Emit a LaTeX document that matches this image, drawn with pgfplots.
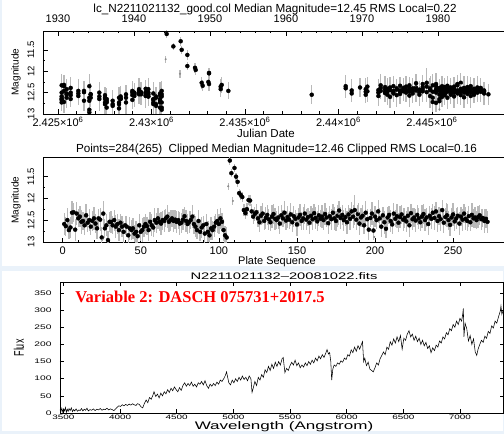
\documentclass[border=0pt]{standalone}
\usepackage{pgfplots}
\pgfplotsset{compat=1.18}
\usepackage{pgfplotstable}
\usepackage{fontspec}
\setmainfont{Liberation Sans}
\newfontfamily\matfont[FakeStretch=1.55]{Liberation Sans}
\newfontfamily\timesfont{Liberation Serif}
\newcommand\fs[1]{\fontsize{#1}{#1}\selectfont}
\definecolor{bgblue}{RGB}{234,242,250}
\definecolor{errgray}{RGB}{185,185,185}
\definecolor{clipgray}{RGB}{140,140,140}

\pgfplotstableread[row sep=\\]{
s d m e\\
1 5196 12.59 0.25\\ 2 5196 12.64 0.22\\ 3 5196 12.50 0.28\\ 4 5196 12.73 0.20\\ 5 5196 12.67 0.24\\ 6 5196 12.33 0.26\\
7 5321 12.32 0.22\\ 8 5321 12.72 0.25\\ 9 5321 12.35 0.27\\ 10 5321 12.46 0.21\\
11 5464 12.42 0.24\\ 12 5464 12.54 0.28\\ 13 5464 12.52 0.20\\ 14 5464 12.62 0.23\\
15 5678 12.39 0.26\\ 16 5678 12.56 0.22\\ 17 5678 12.50 0.25\\ 18 5678 12.65 0.19\\
19 6088 12.52 0.24\\ 20 6088 12.46 0.27\\ 21 6088 12.58 0.22\\
22 6391 12.69 0.25\\ 23 6391 12.46 0.21\\ 24 6391 12.49 0.26\\
25 6676 12.90 0.24\\ 26 6676 12.35 0.28\\ 27 6676 12.69 0.22\\ 28 6676 12.62 0.25\\ 29 6676 12.96 0.20\\
30 6747 12.54 0.23\\ 31 6747 12.54 0.26\\ 32 6747 12.62 0.21\\
33 7211 12.50 0.24\\ 34 7211 12.65 0.27\\ 35 7211 12.59 0.22\\
36 7514 12.73 0.25\\ 37 7514 12.56 0.20\\ 38 7514 12.65 0.24\\ 39 7514 12.77 0.26\\ 40 7514 12.62 0.22\\
41 7603 12.65 0.25\\ 42 7603 12.85 0.21\\ 43 7603 12.69 0.27\\ 44 7603 12.73 0.23\\
45 7924 12.69 0.24\\ 46 7924 12.81 0.20\\ 47 7924 12.77 0.26\\
48 8263 12.87 0.22\\ 49 8263 12.62 0.25\\ 50 8263 12.77 0.21\\ 51 8263 12.73 0.27\\
52 8352 12.65 0.23\\ 53 8352 12.59 0.24\\ 54 8352 12.64 0.20\\
55 8637 12.73 0.26\\ 56 8637 12.54 0.22\\ 57 8637 12.62 0.25\\
58 8976 12.67 0.21\\ 59 8976 12.50 0.27\\ 60 8976 12.56 0.23\\ 61 8976 12.46 0.24\\
62 9083 12.54 0.20\\ 63 9083 12.58 0.26\\ 64 9083 12.50 0.22\\ 65 9083 12.52 0.25\\
66 9333 12.46 0.21\\ 67 9333 12.42 0.27\\ 68 9333 12.54 0.23\\ 69 9333 12.50 0.24\\ 70 9333 12.46 0.20\\
71 9440 12.52 0.26\\ 72 9440 12.49 0.22\\ 73 9440 12.54 0.25\\ 74 9440 12.50 0.21\\
75 9689 12.58 0.27\\ 76 9689 12.56 0.23\\ 77 9689 12.49 0.24\\ 78 9689 12.41 0.20\\ 79 9689 12.52 0.26\\
80 9832 12.59 0.22\\ 81 9832 12.54 0.25\\ 82 9832 12.50 0.21\\ 83 9832 12.42 0.27\\ 84 9832 12.59 0.23\\
85 10099 12.65 0.24\\ 86 10099 12.73 0.20\\ 87 10099 12.52 0.26\\ 88 10099 12.77 0.22\\ 89 10099 12.67 0.25\\
90 10242 12.62 0.21\\ 91 10242 12.81 0.27\\ 92 10242 12.59 0.23\\ 93 10242 12.77 0.24\\
94 10456 12.85 0.20\\ 95 10456 12.69 0.26\\ 96 10456 12.73 0.22\\ 97 10456 12.65 0.25\\ 98 10456 12.56 0.21\\ 99 10456 12.52 0.27\\
100 10545 12.59 0.23\\ 101 10545 12.46 0.24\\ 102 10545 12.54 0.20\\ 103 10545 12.73 0.26\\ 104 10545 12.85 0.22\\ 105 10545 12.90 0.25\\
107 10813 11.13 0.10\\ 108 11169 11.42 0.09\\ 110 11561 11.30 0.10\\ 111 11615 11.50 0.09\\
112 11918 11.62 0.11\\ 113 11918 11.88 0.10\\ 114 12328 11.92 0.12\\ 115 12364 11.97 0.11\\
116 12685 12.27 0.14\\ 117 12738 12.34 0.13\\ 118 13041 12.25 0.15\\ 119 13077 12.04 0.12\\
120 13077 12.05 0.13\\ 121 13077 12.30 0.16\\ 122 13701 12.42 0.18\\ 123 13701 12.36 0.17\\
124 13755 12.32 0.19\\ 125 14111 12.46 0.20\\ 126 18569 12.55 0.22\\
127 20387 12.40 0.22\\ 128 20387 12.35 0.25\\
129 20708 12.52 0.21\\ 130 20708 12.45 0.26\\
131 21154 12.38 0.23\\
132 21457 12.48 0.24\\ 133 21457 12.55 0.20\\ 134 21457 12.42 0.27\\
135 21546 12.36 0.22\\ 136 21546 12.47 0.25\\
137 22135 12.50 0.21\\ 138 22135 12.44 0.26\\ 139 22135 12.58 0.23\\
140 22259 12.39 0.24\\ 141 22259 12.46 0.20\\ 142 22259 12.33 0.27\\
143 22491 12.51 0.22\\ 144 22491 12.43 0.25\\ 145 22491 12.49 0.21\\ 146 22491 12.37 0.26\\
147 22616 12.55 0.23\\ 148 22616 12.41 0.24\\ 149 22616 12.47 0.20\\
150 22759 12.60 0.27\\ 151 22759 12.44 0.22\\ 152 22759 12.38 0.25\\
153 22937 12.52 0.21\\ 154 22937 12.46 0.26\\ 155 22937 12.35 0.23\\ 156 22937 12.49 0.24\\
157 23115 12.43 0.20\\ 158 23115 12.56 0.27\\ 159 23115 12.40 0.22\\
160 23294 12.48 0.25\\ 161 23294 12.34 0.21\\ 162 23294 12.45 0.26\\ 163 23294 12.53 0.23\\
164 23472 12.39 0.24\\ 165 23472 12.47 0.20\\ 166 23472 12.42 0.27\\
167 23615 12.50 0.22\\ 168 23615 12.36 0.25\\ 169 23615 12.44 0.21\\
170 23793 12.57 0.26\\ 171 23793 12.41 0.23\\ 172 23793 12.48 0.24\\ 173 23793 12.33 0.20\\
174 23971 12.46 0.27\\ 175 23971 12.52 0.22\\ 176 23971 12.40 0.25\\
177 24150 12.28 0.21\\ 178 24150 12.45 0.26\\ 179 24150 12.38 0.23\\
180 24328 12.50 0.24\\ 181 24328 12.43 0.20\\ 182 24328 12.55 0.27\\
183 24506 12.37 0.22\\ 184 24506 12.47 0.25\\ 185 24506 12.30 0.21\\ 186 24506 12.42 0.26\\
187 24720 12.27 0.35\\ 188 24720 12.49 0.24\\ 189 24720 12.36 0.20\\
190 24898 12.58 0.27\\ 191 24898 12.44 0.22\\ 192 24898 12.40 0.25\\
193 25041 12.62 0.21\\ 194 25041 12.33 0.26\\ 195 25041 12.48 0.23\\ 196 25041 12.72 0.24\\
197 25219 12.45 0.20\\ 198 25219 12.35 0.27\\ 199 25219 12.74 0.22\\ 200 25219 12.42 0.25\\ 201 25219 12.50 0.21\\ 202 25219 12.30 0.26\\
203 25398 12.46 0.23\\ 204 25398 12.65 0.24\\ 205 25398 12.39 0.20\\ 206 25398 12.55 0.27\\ 207 25398 12.70 0.22\\ 208 25398 12.44 0.25\\
209 25540 12.38 0.21\\ 210 25540 12.52 0.26\\ 211 25540 12.60 0.23\\ 212 25540 12.35 0.24\\ 213 25540 12.47 0.20\\ 214 25540 12.41 0.27\\
215 25683 12.56 0.22\\ 216 25683 12.43 0.25\\ 217 25683 12.37 0.21\\ 218 25683 12.49 0.26\\ 219 25683 12.45 0.23\\ 220 25683 12.53 0.24\\
221 25826 12.40 0.20\\ 222 25826 12.62 0.27\\ 223 25826 12.34 0.22\\ 224 25826 12.48 0.25\\ 225 25826 12.44 0.21\\
226 26004 12.51 0.26\\ 227 26004 12.38 0.23\\ 228 26004 12.46 0.24\\ 229 26004 12.55 0.20\\ 230 26004 12.42 0.27\\
231 26182 12.36 0.22\\ 232 26182 12.50 0.25\\ 233 26182 12.44 0.21\\ 234 26182 12.59 0.26\\ 235 26182 12.40 0.23\\
236 26361 12.47 0.24\\ 237 26361 12.33 0.20\\ 238 26361 12.45 0.27\\ 239 26361 12.30 0.22\\ 240 26361 12.52 0.25\\
241 26539 12.41 0.21\\ 242 26539 12.48 0.26\\ 243 26539 12.27 0.23\\ 244 26539 12.56 0.24\\ 245 26539 12.43 0.20\\
246 26717 12.39 0.27\\ 247 26717 12.50 0.22\\ 248 26717 12.61 0.25\\ 249 26717 12.44 0.21\\
250 26895 12.37 0.26\\ 251 26895 12.53 0.23\\ 252 26895 12.46 0.24\\ 253 26895 12.40 0.20\\
254 27074 12.58 0.27\\ 255 27074 12.42 0.22\\ 256 27074 12.49 0.25\\ 257 27074 12.35 0.21\\
258 27252 12.47 0.26\\ 259 27252 12.52 0.23\\ 260 27252 12.41 0.24\\ 261 27252 12.55 0.20\\
262 27430 12.38 0.27\\ 263 27430 12.46 0.22\\ 264 27430 12.44 0.25\\ 265 27430 12.50 0.21\\
266 27609 12.43 0.26\\ 267 27609 12.39 0.23\\ 268 27609 12.48 0.24\\
269 27787 12.45 0.20\\ 270 27787 12.52 0.27\\ 271 27787 12.47 0.22\\
272 28019 12.54 0.25\\
}\lc

\pgfplotstableread[row sep=\\]{
s d m e\\
25.5 6676 12.95 0.02\\
106 10759 11.72 0.08\\
109 11526 12.06 0.10\\
176.5 24150 12.36 0.25\\
189.5 24898 12.33 0.22\\
199.5 25398 12.89 0.02\\
245.5 26539 12.31 0.20\\
}\lcclip

\pgfplotsset{
  idl/.style={scale only axis, scaled x ticks=false, scaled y ticks=false,
    axis line style={line width=0.7pt}, tick style={line width=0.6pt, black},
    major tick length=5pt, minor tick length=2.5pt, tick align=inside,
    y dir=reverse, ytick={11.5,12,12.5,13}, yticklabels={11.5,12,12.5,13},
    minor y tick num=1, ytick pos=left, xtick pos=left,
    yticklabel style={xshift=-12pt, rotate=90, anchor=center, font=\fs{9.5}},
    xticklabel style={anchor=center, font=\fs{11}}},
  errs/.style={only marks, mark=none, error bars/.cd, y dir=both, y explicit,
    error mark=none, error bar style={line width=1.3pt, errgray}},
  pts/.style={only marks, mark=*, mark size=1.15pt, black},
  cpts/.style={only marks, mark=*, mark size=0.8pt, clipgray, error bars/.cd, y dir=both, y explicit,
    error mark=none, error bar style={line width=1.1pt, errgray}}
}

\begin{document}
\begin{tikzpicture}
\fill[bgblue] (0pt,0pt) rectangle (504pt,434pt);
\fill[white] (2pt,168pt) rectangle (504pt,434pt);
\fill[white] (2pt,3pt) rectangle (503pt,163pt);

% ---------- Panel 1: magnitude vs Julian date ----------
\begin{axis}[idl, anchor=south west, at={(43pt,320pt)}, width=462pt, height=83pt,
  xmin=4198, xmax=28906, ymin=11.06, ymax=13.0,
  xtick={5000,10000,15000,20000,25000},
  xticklabels={2.425×10\textsuperscript{6},2.43×10\textsuperscript{6},2.435×10\textsuperscript{6},2.44×10\textsuperscript{6},2.445×10\textsuperscript{6}},
  minor x tick num=4, xticklabel style={yshift=-8pt}]
\addplot[errs] table[x=d, y=m, y error=e]{\lc};
\addplot[cpts] table[x=d, y=m, y error=e]{\lcclip};
\addplot[pts] table[x=d, y=m]{\lc};
\end{axis}
% top year axis
\begin{axis}[scale only axis, anchor=south west, at={(43pt,320pt)}, width=462pt, height=83pt,
  xmin=1928.03, xmax=1988.82, ymin=0, ymax=1, hide y axis, axis x line*=top,
  scaled x ticks=false,
  axis line style={line width=0.7pt}, tick style={line width=0.6pt, black},
  major tick length=5pt, minor tick length=2.5pt, tick align=inside,
  xtick={1930,1940,1950,1960,1970,1980}, xticklabels={1930,1940,1950,1960,1970,1980},
  minor x tick num=4, xticklabel style={anchor=center, yshift=12pt, font=\fs{11}}]
\end{axis}
\node[font=\fs{11.7}] at (275pt,425pt) {lc\_N2211021132\_good.col Median Magnitude=12.45 RMS Local=0.22};
\node[font=\fs{11.5}] at (266pt,301pt) {Julian Date};
\node[font=\fs{10}, rotate=90] at (16pt,362pt) {Magnitude};

% ---------- Panel 2: magnitude vs plate sequence ----------
\begin{axis}[idl, anchor=south west, at={(43pt,191.3pt)}, width=462pt, height=85.4pt,
  xmin=-12.6, xmax=283.2, ymin=11.055, ymax=13.02,
  xtick={0,50,100,150,200,250}, xticklabels={0,50,100,150,200,250},
  minor x tick num=4, xticklabel style={yshift=-8.5pt}]
\addplot[errs] table[x=s, y=m, y error=e]{\lc};
\addplot[cpts] table[x=s, y=m, y error=e]{\lcclip};
\addplot[pts] table[x=s, y=m]{\lc};
\end{axis}
\node[font=\fs{11.7}] at (276.5pt,284.7pt) {Points=284(265)\ \ Clipped Median Magnitude=12.46 Clipped RMS Local=0.16};
\node[font=\fs{10}, rotate=90] at (16pt,234pt) {Magnitude};
\node[font=\fs{11}, inner sep=0pt] at (277pt,172pt) {Plate Sequence};

% ---------- Panel 3: spectrum ----------
\begin{axis}[scale only axis, anchor=south west, at={(60pt,21pt)}, width=443pt, height=131pt,
  xmin=3470, xmax=7380, ymin=0, ymax=382, scaled x ticks=false, scaled y ticks=false,
  axis line style={line width=0.5pt}, tick style={line width=0.5pt, black},
  major tick length=3.5pt, tick align=inside,
  xtick={3500,4000,4500,5000,5500,6000,6500,7000},
  xticklabels={3500,4000,4500,5000,5500,6000,6500,7000},
  ytick={0,50,100,150,200,250,300,350},
  yticklabels={0,50,100,150,200,250,300,350},
  xticklabel style={anchor=center, yshift=-4pt, font=\matfont\fs{6.4}},
  yticklabel style={anchor=east, xshift=-5pt, font=\matfont\fs{6.6}}]
\addplot[black, line width=0.55pt] coordinates {
(3470,10) (3478,4) (3486,14) (3494,3) (3502,12) (3510,6) (3518,16) (3526,2) (3534,11) (3542,5)
(3550,13) (3560,7) (3570,15) (3580,4) (3590,10) (3600,6) (3612,12) (3624,5) (3636,9) (3648,7)
(3660,13) (3672,6) (3684,11) (3696,8) (3708,14) (3720,6) (3735,10) (3750,8) (3765,12) (3780,7)
(3795,11) (3810,9) (3825,13) (3840,8) (3855,11) (3870,10) (3885,14) (3900,9) (3915,12) (3930,10)
(3945,7) (3960,12) (3975,17) (3990,21) (4005,19) (4020,24) (4035,21) (4050,25) (4065,22) (4080,26)
(4095,23) (4110,27) (4125,24) (4140,22) (4155,27) (4170,25) (4185,18) (4200,15) (4215,28) (4230,38)
(4245,30) (4260,45) (4275,40) (4290,52) (4300,62) (4315,48) (4330,55) (4345,44) (4360,58) (4375,50)
(4390,62) (4405,56) (4420,68) (4435,60) (4450,72) (4465,65) (4480,76) (4495,68) (4510,62) (4525,74)
(4540,66) (4555,80) (4570,88) (4585,78) (4600,86) (4615,80) (4630,90) (4645,78) (4660,84) (4675,76)
(4690,88) (4705,84) (4720,92) (4735,82) (4750,94) (4765,80) (4780,72) (4795,84) (4810,78) (4825,86)
(4840,80) (4855,90) (4870,84) (4885,96) (4900,92) (4915,100) (4930,110) (4940,120) (4950,104) (4960,88)
(4975,82) (4990,96) (5005,88) (5020,100) (5035,92) (5050,104) (5065,96) (5080,108) (5095,98) (5110,104)
(5125,94) (5140,108) (5155,100) (5165,60) (5175,72) (5190,92) (5205,80) (5220,104) (5235,96) (5250,112)
(5265,104) (5280,126) (5295,118) (5310,136) (5325,124) (5340,142) (5355,130) (5370,148) (5385,136) (5400,150)
(5415,140) (5430,158) (5440,162) (5455,118) (5470,130) (5485,124) (5500,138) (5515,148) (5530,140) (5545,154)
(5560,138) (5575,146) (5590,132) (5605,140) (5620,134) (5635,146) (5650,138) (5665,150) (5680,142) (5695,154)
(5710,146) (5725,160) (5740,152) (5755,166) (5770,158) (5785,170) (5800,162) (5815,174) (5827,185) (5840,172)
(5850,176) (5860,150) (5868,96) (5878,128) (5890,140) (5905,136) (5920,146) (5935,142) (5950,152) (5965,148)
(5980,160) (5995,156) (6010,170) (6025,166) (6040,184) (6055,176) (6070,192) (6085,180) (6100,196) (6115,186)
(6130,200) (6140,208) (6150,150) (6160,160) (6175,138) (6190,148) (6205,128) (6220,124) (6235,120) (6250,132)
(6265,146) (6280,140) (6295,158) (6310,168) (6325,178) (6340,170) (6355,192) (6370,186) (6385,208) (6400,198)
(6415,216) (6430,204) (6445,222) (6460,208) (6475,226) (6490,186) (6505,218) (6520,212) (6535,230) (6550,240)
(6565,222) (6580,230) (6595,212) (6610,224) (6625,208) (6640,218) (6655,200) (6670,212) (6685,196) (6700,206)
(6715,188) (6730,196) (6745,176) (6760,190) (6775,182) (6790,198) (6805,192) (6820,210) (6835,204) (6850,222)
(6865,216) (6880,234) (6895,228) (6910,246) (6925,240) (6940,258) (6955,250) (6970,268) (6985,258) (7000,276)
(7015,268) (7025,290) (7030,305) (7035,222) (7045,262) (7060,246) (7075,210) (7090,226) (7105,200) (7120,216)
(7135,178) (7148,168) (7160,186) (7175,200) (7190,212) (7205,206) (7220,224) (7235,218) (7250,238) (7265,232)
(7280,254) (7295,248) (7310,268) (7325,262) (7340,280) (7355,296) (7362,312) (7370,288) (7380,298)
};
\end{axis}
\node[font=\matfont\fs{9.5}] at (284pt,158pt) {N2211021132–20081022.fits};
\node[font=\matfont\fs{11}, inner sep=0pt] at (284pt,7.5pt) {Wavelength (Angstrom)};
\node[rotate=90] at (19pt,86pt) {\scalebox{1}[1.55]{\fs{9}Flux}};
\node[text=red, font=\timesfont\bfseries\fs{16.5}] at (200pt,137.3pt) {Variable 2: DASCH 075731+2017.5};

\pgfresetboundingbox
\path[use as bounding box] (0pt,0pt) rectangle (504pt,434pt);
\end{tikzpicture}
\end{document}
